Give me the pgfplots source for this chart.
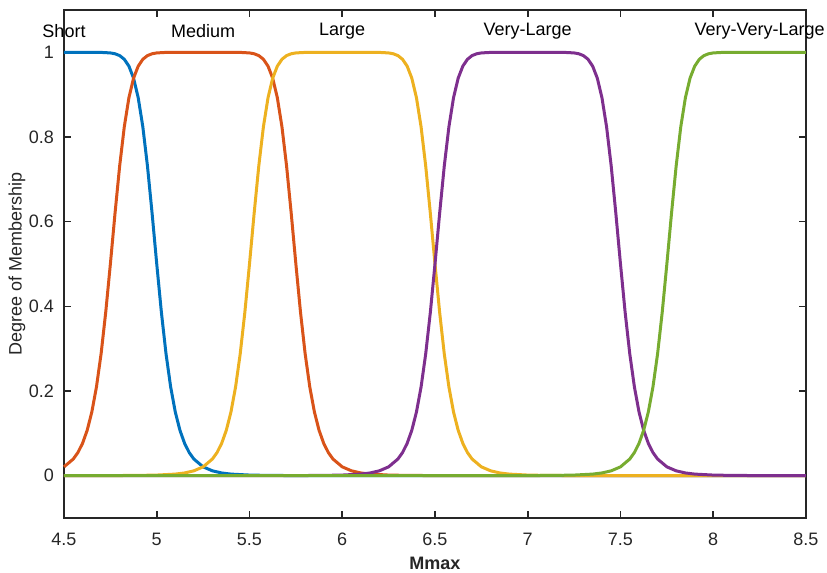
\documentclass[border=0pt]{standalone}
\usepackage{fontspec}
\setmainfont{Liberation Sans}
\usepackage{pgfplots}
\pgfplotsset{compat=1.18}
\definecolor{mblue}{rgb}{0,0.447,0.741}
\definecolor{morange}{rgb}{0.850,0.325,0.098}
\definecolor{myellow}{rgb}{0.929,0.694,0.125}
\definecolor{mpurple}{rgb}{0.494,0.184,0.556}
\definecolor{mgreen}{rgb}{0.466,0.674,0.188}
\definecolor{axgray}{rgb}{0.15,0.15,0.15}
\begin{document}
\begin{tikzpicture}
\begin{axis}[
  scale only axis, width=371pt, height=254pt,
  xmin=4.5, xmax=8.5, ymin=-0.1, ymax=1.1,
  xtick={4.5,5,5.5,6,6.5,7,7.5,8,8.5},
  ytick={0,0.2,0.4,0.6,0.8,1},
  tick align=inside, major tick length=3.5pt,
  axis line style={draw=axgray, line width=0.8pt},
  every tick/.style={draw=axgray, line width=0.8pt},
  tick label style={font=\fontsize{9}{10}\selectfont, text=axgray},
  /pgf/number format/assume math mode=true,
  xlabel={\textbf{Mmax}}, ylabel={Degree of Membership},
  label style={font=\fontsize{9}{10}\selectfont, text=axgray},
  xlabel style={at={(axis description cs:0.5,-0.0886)}, anchor=center},
  ylabel style={at={(axis description cs:-0.0633,0.5)}, anchor=center},
  xticklabel style={yshift=-3.8pt}, yticklabel style={xshift=-1.5pt},
  clip=false,
  every axis plot/.append style={line width=1.5pt, line join=round, mark=none},
]
% Short
\addplot[mblue] coordinates {(4.5,1) (4.6,1) (4.65,1) (4.7,0.9998) (4.75,0.9986) (4.775,0.9966) (4.8,0.9923) (4.825,0.9836) (4.85,0.9673) (4.875,0.9390) (4.9,0.8929) (4.925,0.8240) (4.95,0.7312) (4.975,0.6194) (5,0.5) (5.025,0.3861) (5.05,0.2879) (5.075,0.2096) (5.1,0.1503) (5.125,0.1072) (5.15,0.0764) (5.175,0.0546) (5.2,0.0393) (5.25,0.0208) (5.3,0.0114) (5.35,0.0064) (5.4,0.0037) (5.5,0.0014) (5.6,0.0006) (5.75,0.0002) (6,0) (8.5,0)};
% Medium
\addplot[morange] coordinates {(4.5,0.0208) (4.55,0.0393) (4.575,0.0546) (4.6,0.0764) (4.625,0.1072) (4.65,0.1503) (4.675,0.2096) (4.7,0.2879) (4.725,0.3861) (4.75,0.5) (4.775,0.6194) (4.8,0.7312) (4.825,0.8240) (4.85,0.8929) (4.875,0.9390) (4.9,0.9673) (4.925,0.9836) (4.95,0.9923) (4.975,0.9966) (5.0,0.9986) (5.05,0.9998) (5.1,1) (5.25,1) (5.4,1) (5.45,0.9998) (5.5,0.9986) (5.525,0.9966) (5.55,0.9923) (5.575,0.9836) (5.6,0.9673) (5.625,0.9390) (5.65,0.8929) (5.675,0.8240) (5.7,0.7312) (5.725,0.6194) (5.75,0.5) (5.775,0.3861) (5.8,0.2879) (5.825,0.2096) (5.85,0.1503) (5.875,0.1072) (5.9,0.0764) (5.925,0.0546) (5.95,0.0393) (6.0,0.0208) (6.05,0.0114) (6.1,0.0064) (6.15,0.0037) (6.25,0.0014) (6.35,0.0006) (6.5,0.0002) (6.75,0) (8.5,0)};
% Large
\addplot[myellow] coordinates {(4.5,0) (4.75,0.0002) (4.9,0.0006) (5.0,0.0014) (5.1,0.0037) (5.15,0.0064) (5.2,0.0114) (5.25,0.0208) (5.3,0.0393) (5.325,0.0546) (5.35,0.0764) (5.375,0.1072) (5.4,0.1503) (5.425,0.2096) (5.45,0.2879) (5.475,0.3861) (5.5,0.5) (5.525,0.6194) (5.55,0.7312) (5.575,0.8240) (5.6,0.8929) (5.625,0.9390) (5.65,0.9673) (5.675,0.9836) (5.7,0.9923) (5.725,0.9966) (5.75,0.9986) (5.8,0.9998) (5.85,1) (6.0,1) (6.15,1) (6.2,0.9998) (6.25,0.9986) (6.275,0.9966) (6.3,0.9923) (6.325,0.9836) (6.35,0.9673) (6.375,0.9390) (6.4,0.8929) (6.425,0.8240) (6.45,0.7312) (6.475,0.6194) (6.5,0.5) (6.525,0.3861) (6.55,0.2879) (6.575,0.2096) (6.6,0.1503) (6.625,0.1072) (6.65,0.0764) (6.675,0.0546) (6.7,0.0393) (6.75,0.0208) (6.8,0.0114) (6.85,0.0064) (6.9,0.0037) (7.0,0.0014) (7.1,0.0006) (7.25,0.0002) (7.5,0) (8.5,0)};
% Very-Large
\addplot[mpurple] coordinates {(4.5,0) (5.5,0) (5.75,0.0002) (5.9,0.0006) (6.0,0.0014) (6.1,0.0037) (6.15,0.0064) (6.2,0.0114) (6.25,0.0208) (6.3,0.0393) (6.325,0.0546) (6.35,0.0764) (6.375,0.1072) (6.4,0.1503) (6.425,0.2096) (6.45,0.2879) (6.475,0.3861) (6.5,0.5) (6.525,0.6194) (6.55,0.7312) (6.575,0.8240) (6.6,0.8929) (6.625,0.9390) (6.65,0.9673) (6.675,0.9836) (6.7,0.9923) (6.725,0.9966) (6.75,0.9986) (6.8,0.9998) (6.85,1) (7.0,1) (7.15,1) (7.2,0.9998) (7.25,0.9986) (7.275,0.9966) (7.3,0.9923) (7.325,0.9836) (7.35,0.9673) (7.375,0.9390) (7.4,0.8929) (7.425,0.8240) (7.45,0.7312) (7.475,0.6194) (7.5,0.5) (7.525,0.3861) (7.55,0.2879) (7.575,0.2096) (7.6,0.1503) (7.625,0.1072) (7.65,0.0764) (7.675,0.0546) (7.7,0.0393) (7.75,0.0208) (7.8,0.0114) (7.85,0.0064) (7.9,0.0037) (8.0,0.0014) (8.1,0.0006) (8.25,0.0002) (8.5,0)};
% Very-Very-Large
\addplot[mgreen] coordinates {(4.5,0) (6.75,0) (7.0,0.0002) (7.15,0.0006) (7.25,0.0014) (7.35,0.0037) (7.4,0.0064) (7.45,0.0114) (7.5,0.0208) (7.55,0.0393) (7.575,0.0546) (7.6,0.0764) (7.625,0.1072) (7.65,0.1503) (7.675,0.2096) (7.7,0.2879) (7.725,0.3861) (7.75,0.5) (7.775,0.6194) (7.8,0.7312) (7.825,0.8240) (7.85,0.8929) (7.875,0.9390) (7.9,0.9673) (7.925,0.9836) (7.95,0.9923) (7.975,0.9966) (8.0,0.9986) (8.05,0.9998) (8.1,1) (8.5,1)};
\node[font=\fontsize{9}{10}\selectfont, text=black] at (axis cs:4.5,1.05) {Short};
\node[font=\fontsize{9}{10}\selectfont, text=black] at (axis cs:5.25,1.05) {Medium};
\node[font=\fontsize{9}{10}\selectfont, text=black] at (axis cs:6.0,1.05) {Large};
\node[font=\fontsize{9}{10}\selectfont, text=black] at (axis cs:7.0,1.05) {Very-Large};
\node[font=\fontsize{9}{10}\selectfont, text=black] at (axis cs:8.25,1.05) {Very-Very-Large};
\end{axis}
\pgfresetboundingbox
\useasboundingbox (-32pt,-27.5pt) rectangle (381.5pt,259pt);
\end{tikzpicture}
\end{document}
